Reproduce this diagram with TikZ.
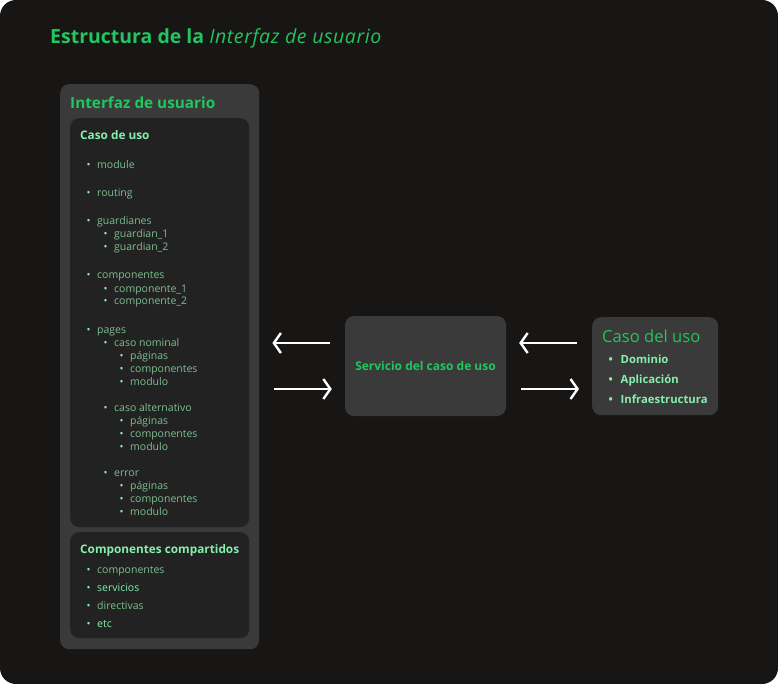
\documentclass[tikz,border=0pt]{standalone}
\usepackage{fontspec}
\setmainfont{Open Sans}
\usepackage{xcolor}
\usetikzlibrary{arrows.meta,positioning}
\definecolor{bgdark}{HTML}{181515}
\definecolor{panelgrey}{HTML}{3A3A3A}
\definecolor{innergrey}{HTML}{222222}
\definecolor{titlegreen}{HTML}{22C55E}
\definecolor{lightgreen}{HTML}{86EFAC}
\definecolor{mutedgreen}{HTML}{7CBF8F}
\newcommand\bul[1][17pt]{\makebox[#1][c]{\textcolor{lightgreen}{\textbullet}}}
\tikzstyle{arrow} = [draw=white, line width=2.4pt, -{Straight Barb[length=7pt,width=20pt]}]
\tikzstyle{panel} = [fill=panelgrey, rounded corners=9pt, inner sep=0pt, anchor=north west]
\tikzstyle{innerbox} = [fill=innergrey, rounded corners=9pt, inner sep=0pt, anchor=north west]
\tikzstyle{item} = [anchor=base west, inner sep=0pt, text=mutedgreen, font=\fontsize{10.5}{12}\selectfont]
\tikzstyle{itembright} = [item, text=lightgreen]
\tikzstyle{boxtitle} = [anchor=base west, inner sep=0pt, text=lightgreen, font=\bfseries\fontsize{11.8}{14}\selectfont]
\tikzstyle{casoitem} = [anchor=base west, inner sep=0pt, text=lightgreen, font=\bfseries\fontsize{11.3}{13}\selectfont]

\begin{document}
\begin{tikzpicture}[x=1pt, y=-1pt]
%----------------------------------------------------------------------------
% Background and title
\useasboundingbox (0,0) rectangle (778,684);
\fill [bgdark, rounded corners=16pt] (0,0) rectangle (778,684);

\node (pageTitle) [anchor=base west, inner sep=0pt, text=titlegreen, font=\fontsize{19.5}{23}\selectfont] at (50,44)
{\textbf{Estructura de la} {\itshape\addfontfeature{LetterSpace=3}Interfaz de usuario}};

%----------------------------------------------------------------------------
% Panels
\node (uiPanel) [panel, minimum width=199pt, minimum height=565pt] at (60,84) {};
\node (uiHeader) [anchor=base west, inner sep=0pt, text=titlegreen, font=\bfseries\fontsize{15.3}{18}\selectfont] at (70,109)
{Interfaz de usuario};

\node (casoUsoBox) [innerbox, minimum width=179pt, minimum height=409pt] at (70,118) {};
\node (compartBox) [innerbox, minimum width=179pt, minimum height=106pt] at (70,532) {};

\node (svcBox) [panel, anchor=center, minimum width=161pt, minimum height=100pt, text=titlegreen, font=\bfseries\fontsize{12}{14}\selectfont] at (425.5,366)
{Servicio del caso de uso};

\node (casoDelUsoBox) [panel, minimum width=126pt, minimum height=98pt] at (592,317) {};

%----------------------------------------------------------------------------
% Caso de uso list
\node (casoUsoTitle) [boxtitle] at (80,140) {Caso de uso};

\node (itModule) [item] at (80,169) {\bul module};
\node (itRouting) [item] at (80,197) {\bul routing};

\node (itGuard) [item] at (80,225) {\bul guardianes};
\node (itGuardA) [item] at (97,238) {\bul guardian\_1};
\node (itGuardB) [item] at (97,251) {\bul guardian\_2};

\node (itComp) [item] at (80,279) {\bul componentes};
\node (itCompA) [item] at (97,292) {\bul componente\_1};
\node (itCompB) [item] at (97,305) {\bul componente\_2};

\node (itPages) [item] at (80,333) {\bul pages};
\node (itNominal) [item] at (97,346) {\bul caso nominal};
\node (itNomPag) [item] at (113,359) {\bul páginas};
\node (itNomComp) [item] at (113,372) {\bul componentes};
\node (itNomMod) [item] at (113,385) {\bul modulo};

\node (itAlt) [item] at (97,411) {\bul caso alternativo};
\node (itAltPag) [item] at (113,424) {\bul páginas};
\node (itAltComp) [item] at (113,437) {\bul componentes};
\node (itAltMod) [item] at (113,450) {\bul modulo};

\node (itError) [item] at (97,476) {\bul error};
\node (itErrPag) [item] at (113,489) {\bul páginas};
\node (itErrComp) [item] at (113,502) {\bul componentes};
\node (itErrMod) [item] at (113,515) {\bul modulo};

%----------------------------------------------------------------------------
% Componentes compartidos list
\node (compartTitle) [boxtitle] at (80,553) {Componentes compartidos};
\node (shComp) [item] at (80,573) {\bul componentes};
\node (shServ) [itembright] at (80,591) {\bul servicios};
\node (shDir) [item] at (80,609) {\bul directivas};
\node (shEtc) [itembright] at (80,627) {\bul etc};

%----------------------------------------------------------------------------
% Caso del uso box
\node (casoDelUsoTitle) [anchor=base west, inner sep=0pt, text=titlegreen, font=\fontsize{16.6}{19}\selectfont] at (602,342)
{Caso del uso};
\node (cuDominio) [casoitem] at (600.5,363) {\bul[20pt]Dominio};
\node (cuAplic) [casoitem] at (600.5,383) {\bul[20pt]Aplicación};
\node (cuInfra) [casoitem] at (600.5,403) {\bul[20pt]Infraestructura};

%----------------------------------------------------------------------------
% Arrows
\coordinate (arrUp) at (0,343);
\coordinate (arrDown) at (0,389);

\draw [arrow, shorten <=15pt, shorten >=13pt] (svcBox.west |- arrUp) -- (uiPanel.east |- arrUp);
\draw [arrow, shorten <=15pt, shorten >=13pt] (uiPanel.east |- arrDown) -- (svcBox.west |- arrDown);

\draw [arrow, shorten <=15pt, shorten >=13pt] (casoDelUsoBox.west |- arrUp) -- (svcBox.east |- arrUp);
\draw [arrow, shorten <=15pt, shorten >=13pt] (svcBox.east |- arrDown) -- (casoDelUsoBox.west |- arrDown);
\end{tikzpicture}
\end{document}
